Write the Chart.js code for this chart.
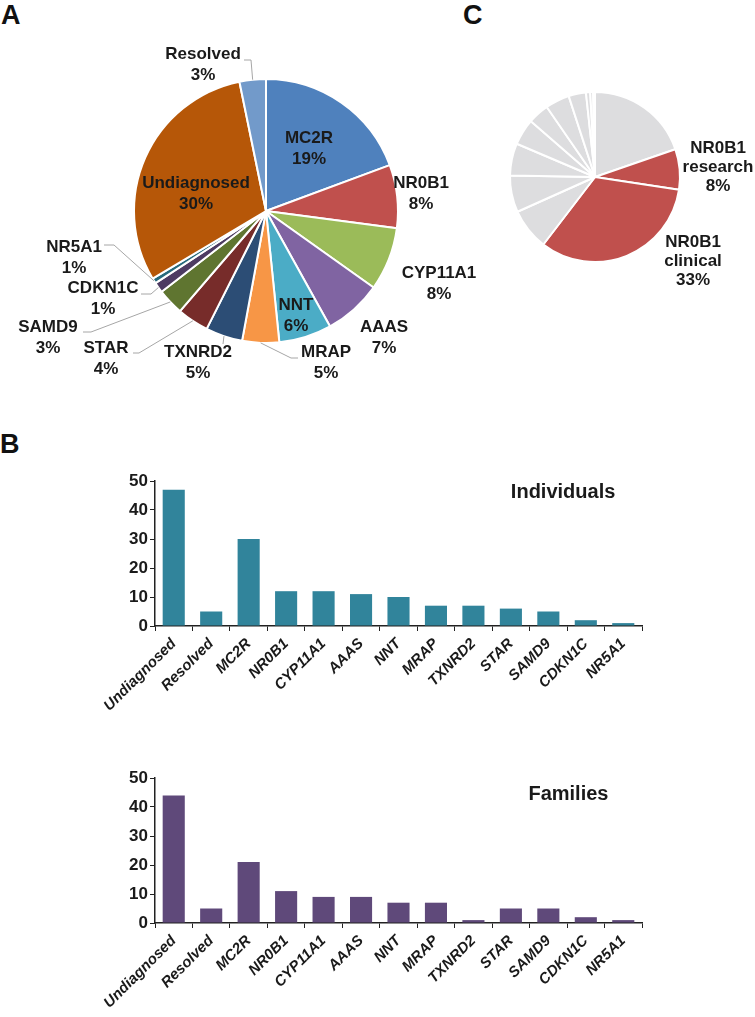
<!DOCTYPE html>
<html lang="en">
<head>
<meta charset="UTF-8">
<title>Adrenal insufficiency diagnoses</title>
<script src="https://cdn.jsdelivr.net/npm/chart.js@4.4.0/dist/chart.umd.min.js"></script>
<style>
  html, body { margin: 0; padding: 0; background: #fff; }
  #page { position: relative; width: 755px; height: 1017px; overflow: hidden; font-family: "Liberation Sans", Arial, sans-serif; }
  .letter { position: absolute; font-weight: bold; font-size: 27px; color: #111; line-height: 1; }
  canvas { position: absolute; }
</style>
</head>
<body>
<div id="page">
  <div class="letter" style="left:1px; top:2px;">A</div>
  <div class="letter" style="left:463px; top:2px;">C</div>
  <div class="letter" style="left:0px; top:431px;">B</div>
  <canvas id="pieA" style="left:0; top:0;" width="480" height="420"></canvas>
  <canvas id="pieC" style="left:480px; top:40px;" width="275" height="270"></canvas>
  <canvas id="barInd" style="left:0; top:455px;" width="755" height="275"></canvas>
  <canvas id="barFam" style="left:0; top:752px;" width="755" height="265"></canvas>
</div>

<script>
// Panel A: cohort by diagnosis (individuals)
const pieLabels = ['MC2R', 'NR0B1', 'CYP11A1', 'AAAS', 'NNT', 'MRAP', 'TXNRD2', 'STAR', 'SAMD9', 'CDKN1C', 'NR5A1', 'Undiagnosed', 'Resolved'];
const pieValues = [30, 12, 12, 11, 10, 7, 7, 6, 5, 2, 1, 47, 5];
const pieColors = ['#4F81BD', '#C0504D', '#9BBB59', '#8064A2', '#4BACC6', '#F79646', '#2C4D75', '#772C2A', '#5F7530', '#4D3B62', '#276A7C', '#B65708', '#729ACA'];

// Panel C: NR0B1 split into research / clinical (%)
const pieCLabels = ['MC2R', 'NR0B1 research', 'NR0B1 clinical', 'CYP11A1', 'AAAS', 'NNT', 'MRAP', 'TXNRD2', 'STAR', 'SAMD9', 'CDKN1C', 'NR5A1', 'other'];
const pieCValues = [19.7, 7.7, 33.0, 7.9, 7.0, 6.1, 5.0, 4.0, 4.6, 3.3, 0.8, 0.55, 0.35];

// Panel B: counts
const barLabels = ['Undiagnosed', 'Resolved', 'MC2R', 'NR0B1', 'CYP11A1', 'AAAS', 'NNT', 'MRAP', 'TXNRD2', 'STAR', 'SAMD9', 'CDKN1C', 'NR5A1'];
const individuals = [47, 5, 30, 12, 12, 11, 10, 7, 7, 6, 5, 2, 1];
const families = [44, 5, 21, 11, 9, 9, 7, 7, 1, 5, 5, 2, 1];
const yTicks = [0, 10, 20, 30, 40, 50];

const FONT = '"Liberation Sans", Arial, sans-serif';

// label placement for pie A, relative to pie centre (dx, dy of first text line)
// lead: optional leader line points (relative), last point joins the slice edge
const pieALayout = {
  'MC2R':        { at: [43, -73] },
  'NR0B1':       { at: [155, -28] },
  'CYP11A1':     { at: [173, 62] },
  'AAAS':        { at: [118, 116] },
  'NNT':         { at: [30, 94] },
  'MRAP':        { at: [60, 141], lead: [[32, 147], [25, 147]] },
  'TXNRD2':      { at: [-68, 141], lead: [[-43, 133]] },
  'STAR':        { at: [-160, 137], lead: [[-133, 142], [-127, 142]] },
  'SAMD9':       { at: [-218, 116], lead: [[-183, 121], [-175, 121]] },
  'CDKN1C':      { at: [-163, 77], lead: [[-125, 83], [-115, 83]] },
  'NR5A1':       { at: [-192, 36], lead: [[-162, 34], [-152, 34]] },
  'Undiagnosed': { at: [-70, -28] },
  'Resolved':    { at: [-63, -157], lead: [[-22, -151], [-15, -151]] }
};

const pieCLayout = {
  'NR0B1 research': { at: [123, -29], lines: ['NR0B1', 'research', '8%'] },
  'NR0B1 clinical': { at: [98, 65], lines: ['NR0B1', 'clinical', '33%'] }
};

function pct(v, arr) {
  const tot = arr.reduce((a, b) => a + b, 0);
  return Math.round(v / tot * 100) + '%';
}

// draws text labels (and leader lines) next to the arcs
const pieLabelPlugin = {
  id: 'pieLabels',
  afterDatasetsDraw(chart, args, opts) {
    const ctx = chart.ctx;
    const meta = chart.getDatasetMeta(0);
    const labels = chart.data.labels;
    const values = chart.data.datasets[0].data;
    ctx.save();
    ctx.font = 'bold ' + opts.size + 'px ' + FONT;
    ctx.fillStyle = '#1a1a1a';
    ctx.textAlign = 'center';
    ctx.textBaseline = 'middle';
    meta.data.forEach((arc, i) => {
      const lay = opts.layout[labels[i]];
      if (!lay) return;
      const cx = arc.x, cy = arc.y;
      if (lay.lead) {
        const mid = (arc.startAngle + arc.endAngle) / 2;
        const ex = cx + Math.cos(mid) * arc.outerRadius;
        const ey = cy + Math.sin(mid) * arc.outerRadius;
        ctx.strokeStyle = '#a6a6a6';
        ctx.lineWidth = 1;
        ctx.beginPath();
        lay.lead.forEach((p, k) => {
          if (k === 0) ctx.moveTo(cx + p[0], cy + p[1]);
          else ctx.lineTo(cx + p[0], cy + p[1]);
        });
        ctx.lineTo(ex, ey);
        ctx.stroke();
      }
      const lines = lay.lines || [labels[i], pct(values[i], values)];
      lines.forEach((t, k) => {
        ctx.fillText(t, cx + lay.at[0], cy + lay.at[1] + k * opts.lineH);
      });
    });
    ctx.restore();
  }
};

Chart.defaults.animation = false;
Chart.defaults.font.family = FONT;
Chart.defaults.color = '#1a1a1a';

new Chart(document.getElementById('pieA'), {
  type: 'pie',
  data: {
    labels: pieLabels,
    datasets: [{ data: pieValues, backgroundColor: pieColors, borderColor: '#ffffff', borderWidth: 2 }]
  },
  options: {
    responsive: false,
    layout: { padding: { left: 132, top: 78, right: 80, bottom: 76 } },
    plugins: {
      legend: { display: false },
      tooltip: { enabled: false },
      pieLabels: { layout: pieALayout, size: 17, lineH: 21 }
    }
  },
  plugins: [pieLabelPlugin]
});

new Chart(document.getElementById('pieC'), {
  type: 'pie',
  data: {
    labels: pieCLabels,
    datasets: [{
      data: pieCValues,
      backgroundColor: pieCLabels.map(l => l.startsWith('NR0B1') ? '#C0504D' : '#DDDDDF'),
      borderColor: '#ffffff',
      borderWidth: 2
    }]
  },
  options: {
    responsive: false,
    layout: { padding: { left: 29, top: 51, right: 74, bottom: 47 } },
    plugins: {
      legend: { display: false },
      tooltip: { enabled: false },
      pieLabels: { layout: pieCLayout, size: 17, lineH: 19 }
    }
  },
  plugins: [pieLabelPlugin]
});

// title drawn inside plot area, top right
const cornerTitle = {
  id: 'cornerTitle',
  afterDraw(chart, args, opts) {
    const a = chart.chartArea;
    const ctx = chart.ctx;
    ctx.save();
    ctx.font = 'bold 20px ' + FONT;
    ctx.fillStyle = '#1a1a1a';
    ctx.textAlign = 'center';
    ctx.textBaseline = 'middle';
    ctx.fillText(opts.text, a.left + opts.fx * (a.right - a.left), a.top + opts.dy);
    ctx.restore();
  }
};

function barChart(id, values, color, title, fx, dy, axisH) {
  return new Chart(document.getElementById(id), {
    type: 'bar',
    data: {
      labels: barLabels,
      datasets: [{ data: values, backgroundColor: color, barPercentage: 0.59, categoryPercentage: 1 }]
    },
    options: {
      responsive: false,
      layout: { padding: { top: 26, right: 113, left: 0, bottom: 0 } },
      plugins: {
        legend: { display: false },
        tooltip: { enabled: false },
        cornerTitle: { text: title, fx: fx, dy: dy }
      },
      scales: {
        x: {
          grid: { drawOnChartArea: false, offset: true, color: '#222', tickLength: 5, lineWidth: 1 },
          border: { color: '#222', width: 1.5 },
          ticks: {
            maxRotation: 45, minRotation: 45, autoSkip: false, padding: 4,
            font: { size: 15, weight: 'bold', style: 'italic' }, color: '#1a1a1a'
          },
          afterFit: s => { s.height = axisH; }
        },
        y: {
          min: 0, max: 50,
          afterBuildTicks: s => { s.ticks = yTicks.map(v => ({ value: v })); },
          grid: { drawOnChartArea: false, color: '#222', tickLength: 5 },
          border: { color: '#222', width: 1.5 },
          ticks: { padding: 2, font: { size: 17, weight: 'bold' }, color: '#1a1a1a' },
          afterFit: s => { s.width = 155; }
        }
      }
    },
    plugins: [cornerTitle]
  });
}

barChart('barInd', individuals, '#31849B', 'Individuals', 0.838, 11, 104);
barChart('barFam', families, '#5F497A', 'Families', 0.849, 16, 94);
</script>
</body>
</html>
